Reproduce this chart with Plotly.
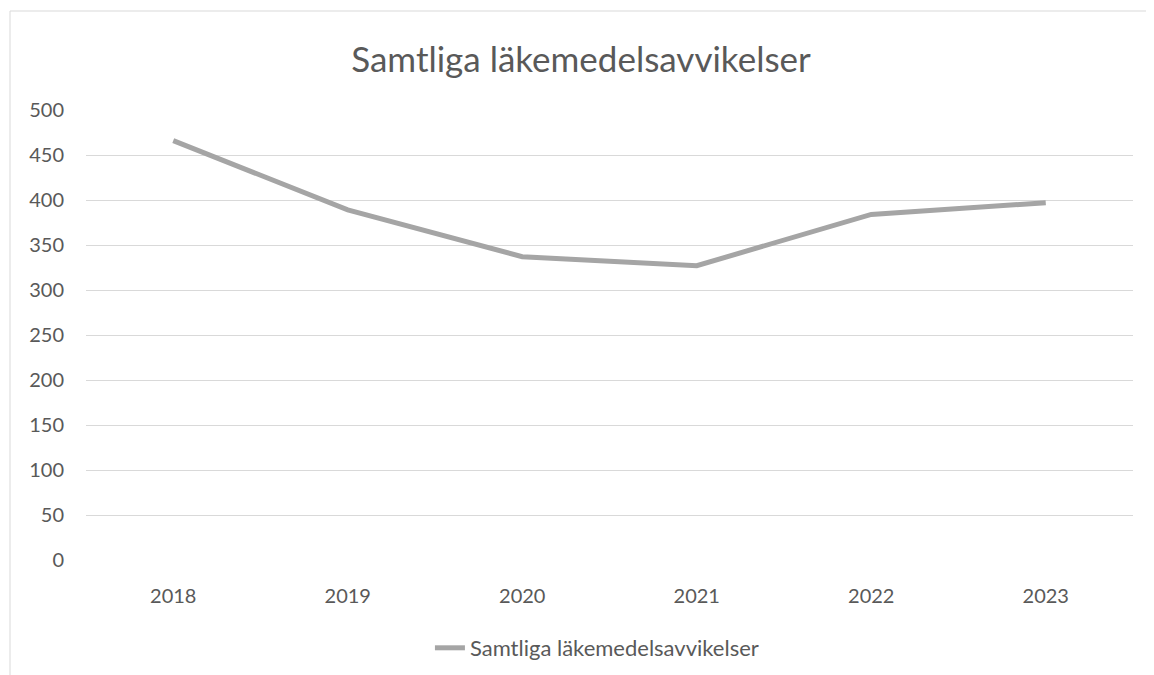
import plotly.graph_objects as go

years = ["2018", "2019", "2020", "2021", "2022", "2023"]
values = [466, 389, 337, 327, 384, 397]
series_name = "Samtliga läkemedelsavvikelser"
title_text = "Samtliga läkemedelsavvikelser"
y_ticks = [0, 50, 100, 150, 200, 250, 300, 350, 400, 450, 500]

FONT = "Lato"
TXT = "#595959"

# page body adds an ~8px offset; plot area in figure pixels
OFF = 8
L, T, W, H = 86 - OFF, 110 - OFF, 1047, 450

fig = go.Figure()
fig.add_trace(go.Scatter(
    x=years, y=values, mode="lines", name=series_name,
    line=dict(color="#a5a5a5", width=5),
))

border_y = (T + H - (11 - OFF)) / H
border_x = ((10 - OFF) - L) / W

fig.update_layout(
    width=1154, height=675,
    margin=dict(l=L, r=1154 - L - W, t=T, b=675 - T - H, autoexpand=False),
    paper_bgcolor="white", plot_bgcolor="white",
    font=dict(family=FONT, color=TXT, size=20),
    title=dict(text=title_text, x=(581 - OFF) / 1154, xanchor="center", y=1 - (60 - OFF) / 675,
               yanchor="middle", font=dict(size=35, color=TXT, family=FONT)),
    showlegend=True,
    legend=dict(orientation="h", x=0.488, xanchor="center", y=(T + H - (648 - OFF)) / H, yanchor="middle",
                font=dict(size=22, color=TXT, family=FONT)),
    xaxis=dict(type="category", range=[-0.5, 5.5], showgrid=False, zeroline=False, showline=False,
               ticks="", ticklabelstandoff=22, tickfont=dict(size=20, color=TXT)),
    yaxis=dict(range=[0, 500], tickvals=y_ticks, showgrid=True, gridcolor="#d9d9d9",
               gridwidth=1, zeroline=False, showline=False, ticks="",
               ticklabelstandoff=21, tickfont=dict(size=20, color=TXT)),
    shapes=[
        dict(type="line", xref="paper", yref="paper", x0=border_x, x1=1.05, y0=border_y, y1=border_y,
             line=dict(color="#d9d9d9", width=1)),
        dict(type="line", xref="paper", yref="paper", x0=border_x, x1=border_x, y0=border_y, y1=-0.3,
             line=dict(color="#d9d9d9", width=1)),
    ],
)

fig.write_html("out.html")
